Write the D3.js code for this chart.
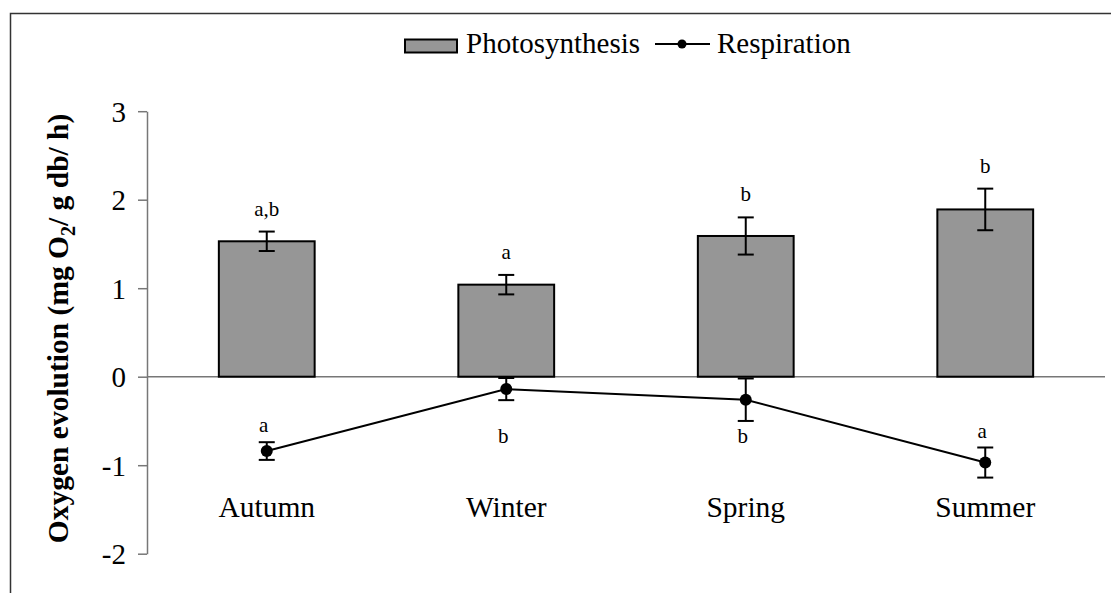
<!DOCTYPE html>
<html>
<head>
<meta charset="utf-8">
<script src="https://cdn.jsdelivr.net/npm/d3@7"></script>
<style>
  body { margin: 0; background: #fff; }
  svg { display: block; }
  text { font-family: "Liberation Serif", "Times New Roman", serif; }
</style>
</head>
<body>
<svg width="1111" height="593"></svg>
<script>
// data
const seasons = ["Autumn", "Winter", "Spring", "Summer"];
const photoMean = [1.53, 1.04, 1.59, 1.89];
const photoErr = [0.11, 0.11, 0.21, 0.235];
const photoLetters = ["a,b", "a", "b", "b"];
const respMean = [-0.84, -0.14, -0.26, -0.97];
const respErr = [0.10, 0.125, 0.24, 0.17];
const respLetters = ["a", "b", "b", "a"];
const respLetterSide = ["above", "below", "below", "above"];
const yTicks = [3, 2, 1, 0, -1, -2];

const SERIF = "Liberation Serif";
let svg = d3.select("svg");

// outer frame (right/bottom edges fall off the canvas)
svg.append("rect")
  .attr("x", 10.5).attr("y", 13.5)
  .attr("width", 1120).attr("height", 620)
  .attr("fill", "none").attr("stroke", "#333").attr("stroke-width", 1.5);

let x = d3.scaleBand().domain(seasons).range([147, 1105]).paddingInner(0).paddingOuter(0);
let y = d3.scaleLinear().domain([-2, 3]).range([553.7, 111.2]);
let barW = x.bandwidth() * 0.4;
let cx = d => x(d) + x.bandwidth() / 2;

// y axis
let yAxis = svg.append("g")
  .attr("transform", "translate(147,0)")
  .attr("font-family", SERIF)
  .call(d3.axisLeft(y).tickValues(yTicks).tickFormat(d => String(d))
    .tickSize(9).tickSizeOuter(0).tickPadding(12));
yAxis.select(".domain").attr("stroke", "#777").attr("stroke-width", 1.5);
yAxis.selectAll(".tick line").attr("stroke", "#777").attr("stroke-width", 1.5);
yAxis.selectAll(".tick text")
  .attr("font-family", SERIF)
  .attr("font-size", 29).attr("fill", "#000")
  .attr("dy", "0.34em");

// zero line
svg.append("line")
  .attr("x1", 147).attr("x2", 1105)
  .attr("y1", y(0)).attr("y2", y(0))
  .attr("stroke", "#777").attr("stroke-width", 1.5);

// y title
svg.append("text")
  .attr("transform", "translate(68," + (y(0.5) - 4) + ") rotate(-90)")
  .attr("text-anchor", "middle")
  .attr("font-family", SERIF)
  .attr("font-size", 29.5).attr("font-weight", "bold")
  .call(t => {
    t.append("tspan").text("Oxygen evolution (mg O");
    t.append("tspan").attr("font-size", 20).attr("dy", 7).text("2");
    t.append("tspan").attr("dy", -7).text("/ g db/ h)");
  });

// bars
svg.append("g").selectAll("rect")
  .data(seasons)
  .join("rect")
  .attr("x", d => cx(d) - barW / 2)
  .attr("width", barW)
  .attr("y", (d, i) => y(photoMean[i]))
  .attr("height", (d, i) => y(0) - y(photoMean[i]))
  .attr("fill", "#969696")
  .attr("stroke", "#000").attr("stroke-width", 2);

function errorBars(means, errs) {
  let g = svg.append("g").attr("stroke", "#000").attr("stroke-width", 2);
  seasons.forEach((s, i) => {
    let xc = cx(s), hi = y(means[i] + errs[i]), lo = y(means[i] - errs[i]);
    g.append("line").attr("x1", xc).attr("x2", xc).attr("y1", hi).attr("y2", lo);
    g.append("line").attr("x1", xc - 8).attr("x2", xc + 8).attr("y1", hi).attr("y2", hi);
    g.append("line").attr("x1", xc - 8).attr("x2", xc + 8).attr("y1", lo).attr("y2", lo);
  });
}
errorBars(photoMean, photoErr);

// letters above bars
svg.append("g").selectAll("text")
  .data(seasons)
  .join("text")
  .attr("x", d => cx(d))
  .attr("y", (d, i) => y(photoMean[i] + photoErr[i]) - 16)
  .attr("text-anchor", "middle")
  .attr("font-family", SERIF)
  .attr("font-size", 21)
  .text((d, i) => photoLetters[i]);

// respiration line
errorBars(respMean, respErr);
svg.append("path")
  .datum(seasons)
  .attr("d", d3.line().x(d => cx(d)).y((d, i) => y(respMean[i])))
  .attr("fill", "none").attr("stroke", "#000").attr("stroke-width", 2);
svg.append("g").selectAll("circle")
  .data(seasons)
  .join("circle")
  .attr("cx", d => cx(d))
  .attr("cy", (d, i) => y(respMean[i]))
  .attr("r", 6).attr("fill", "#000");

svg.append("g").selectAll("text")
  .data(seasons)
  .join("text")
  .attr("x", d => cx(d) - 3)
  .attr("y", (d, i) => respLetterSide[i] === "above"
    ? y(respMean[i] + respErr[i]) - 10
    : Math.max(y(respMean[i] - respErr[i]) + 20, y(-0.75)))
  .attr("text-anchor", "middle")
  .attr("font-family", SERIF)
  .attr("font-size", 21)
  .text((d, i) => respLetters[i]);

// category labels
svg.append("g").selectAll("text")
  .data(seasons)
  .join("text")
  .attr("x", d => cx(d))
  .attr("y", 517)
  .attr("text-anchor", "middle")
  .attr("font-family", SERIF)
  .attr("font-size", 29.5)
  .text(d => d);

// legend
let lg = svg.append("g").attr("font-family", SERIF).attr("font-size", 29);
lg.append("rect").attr("x", 405).attr("y", 39.5).attr("width", 52).attr("height", 13)
  .attr("fill", "#969696").attr("stroke", "#000").attr("stroke-width", 2);
lg.append("text").attr("x", 466).attr("y", 53).text("Photosynthesis");
lg.append("line").attr("x1", 655).attr("x2", 710).attr("y1", 44).attr("y2", 44)
  .attr("stroke", "#000").attr("stroke-width", 2);
lg.append("circle").attr("cx", 682).attr("cy", 44).attr("r", 4.5).attr("fill", "#000");
lg.append("text").attr("x", 717).attr("y", 53).text("Respiration");
</script>
</body>
</html>
